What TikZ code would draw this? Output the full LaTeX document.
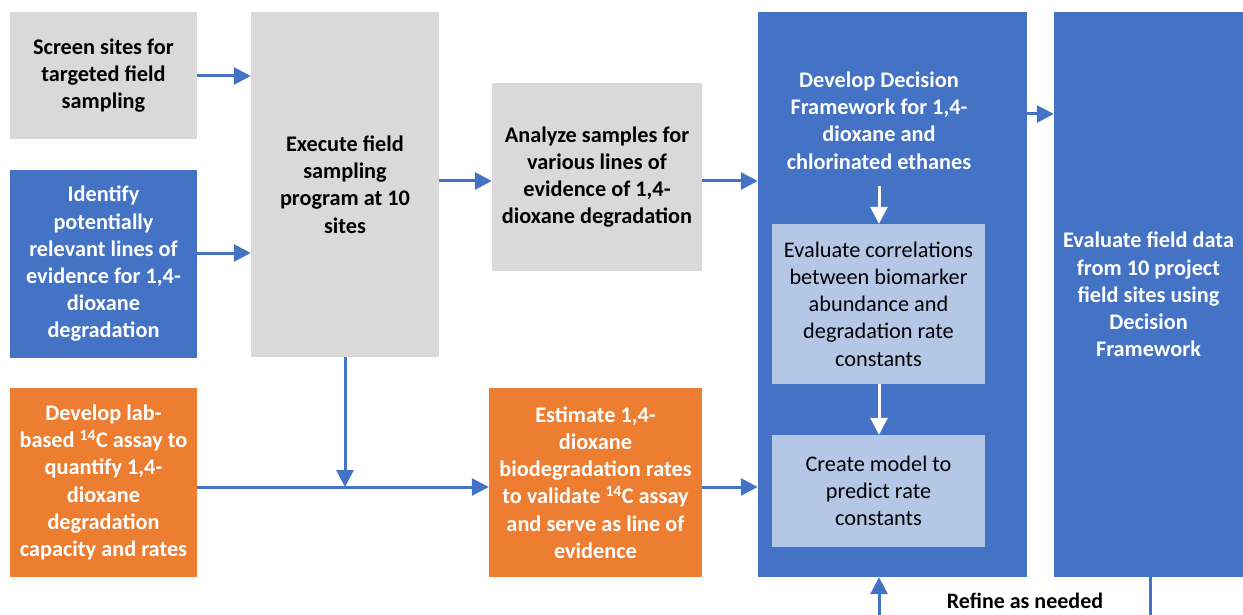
\documentclass[tikz,border=0pt]{standalone}
\usepackage{fontspec}
\setmainfont{Carlito}
\usetikzlibrary{arrows.meta}
\definecolor{cblue}{HTML}{4472C4}
\definecolor{cgray}{HTML}{D9D9D9}
\definecolor{corange}{HTML}{ED7D31}
\definecolor{clight}{HTML}{B4C7E7}
\begin{document}
\begin{tikzpicture}[x=1pt,y=-1pt,
  box/.style={draw=none,rectangle,inner sep=0pt,align=center,font=\fontsize{22.3}{27.2}\selectfont\bfseries},
  graybox/.style={box,fill=cgray,text=black},
  bluebox/.style={box,fill=cblue,text=white},
  orangebox/.style={box,fill=corange,text=white},
  lightbox/.style={box,fill=clight,text=black,font=\fontsize{22.3}{27.2}\selectfont},
  arr/.style={draw=cblue,line width=3pt,-{Triangle[length=17pt,width=17pt]}},
  warr/.style={draw=white,line width=3pt,-{Triangle[length=17pt,width=17pt]}},
  ln/.style={draw=cblue,line width=3pt}]
\useasboundingbox (0,0) rectangle (1243,615);
\node[graybox,minimum width=187pt,minimum height=127pt] (screen) at (103.5,75.5) {Screen sites for\\targeted field\\sampling};
\node[bluebox,minimum width=187pt,minimum height=188pt] (ident) at (103.5,264) {Identify\\potentially\\relevant lines of\\evidence for 1,4-\\dioxane\\degradation};
\node[orangebox,minimum width=187pt,minimum height=189pt] (lab) at (103.5,482.5) {Develop lab-\\based \textsuperscript{14}C assay to\\quantify 1,4-\\dioxane\\degradation\\capacity and rates};
\node[graybox,minimum width=188pt,minimum height=345pt] (exec) at (345,184.5) {Execute field\\sampling\\program at 10\\sites};
\node[graybox,minimum width=210pt,minimum height=188pt] (anal) at (597,177) {Analyze samples for\\various lines of\\evidence of 1,4-\\dioxane degradation};
\node[orangebox,minimum width=213pt,minimum height=189pt] (est) at (595.5,482.5) {Estimate 1,4-\\dioxane\\biodegradation rates\\to validate \textsuperscript{14}C assay\\and serve as line of\\evidence};
\node[bluebox,minimum width=269pt,minimum height=565pt] (big) at (892.5,294.5) {};
\node[box,text=white] (title) at (879,120.5) {Develop Decision\\Framework for 1,4-\\dioxane and\\chlorinated ethanes};
\node[lightbox,minimum width=213pt,minimum height=160pt] (corr) at (878.5,304) {Evaluate correlations\\between biomarker\\abundance and\\degradation rate\\constants};
\node[lightbox,minimum width=213pt,minimum height=112pt] (model) at (878.5,491) {Create model to\\predict rate\\constants};
\node[bluebox,minimum width=189pt,minimum height=565pt] (field) at (1148.5,294.5) {Evaluate field data\\from 10 project\\field sites using\\Decision\\Framework};
\node[font=\fontsize{22}{26}\selectfont\bfseries] (refine) at (1025,601) {Refine as needed};
\coordinate (j) at (345,487);
\coordinate (b1) at (879,615);
\coordinate (b2) at (1150,615);
\draw[arr] (screen.east |- 0,76) -- (exec.west |- 0,76);
\draw[arr] (ident.east |- 0,253) -- (exec.west |- 0,253);
\draw[arr] (exec.east |- 0,181) -- (anal.west |- 0,181);
\draw[arr] (anal.east |- 0,181) -- (big.west |- 0,181);
\draw[arr] (big.east |- 0,114) -- (field.west |- 0,114);
\draw[arr] (exec.south) -- (j);
\draw[arr] (lab.east |- j) -- (est.west |- j);
\draw[arr] (est.east |- j) -- (big.west |- j);
\draw[warr] (879,186) -- (corr.north -| 879,0);
\draw[warr] (corr.south -| 879,0) -- (model.north -| 879,0);
\draw[arr] (b1) -- (big.south -| b1);
\draw[ln] (field.south -| b2) -- (b2);
\end{tikzpicture}
\end{document}
